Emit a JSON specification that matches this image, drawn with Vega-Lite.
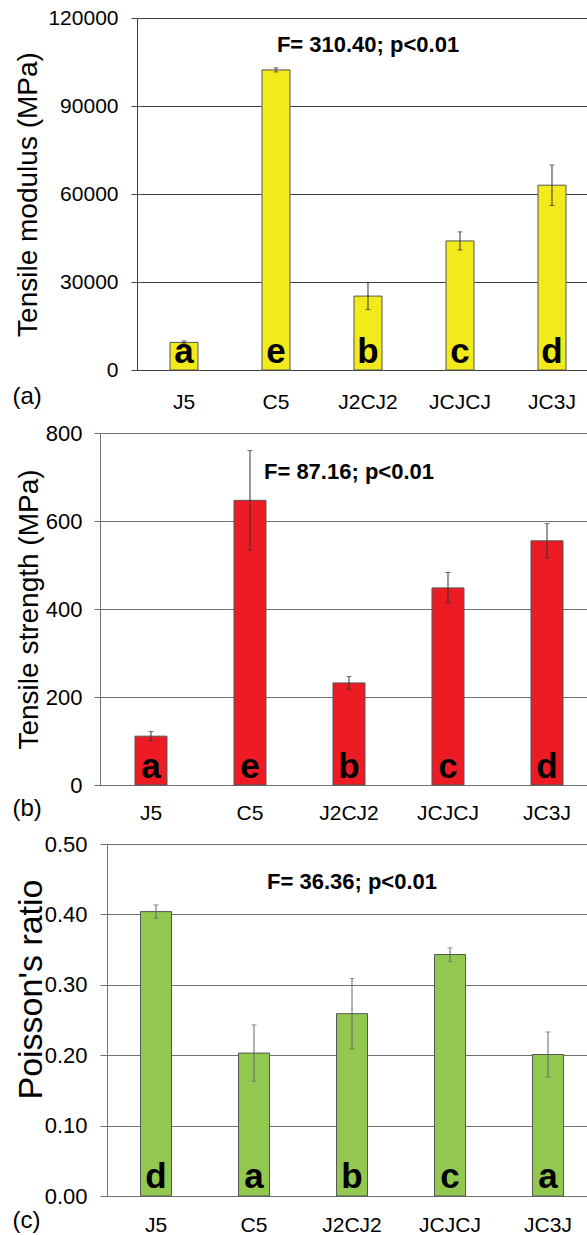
{
  "$schema": "https://vega.github.io/schema/vega-lite/v6.json",
  "background": "white",
  "padding": {"left": 12, "top": 7, "right": 0, "bottom": 0},
  "spacing": 10,
  "config": {
    "view": {"stroke": null},
    "axis": {"labelFont": "Liberation Sans", "titleFont": "Liberation Sans", "labelColor": "#000", "titleColor": "#000", "titleFontWeight": "normal", "labelFontWeight": "normal"},
    "text": {"font": "Liberation Sans", "color": "#000"}
  },
  "vconcat": [
    {"hconcat": [
    {"width": 125, "height": 352, "data": {"values": []}, "mark": {"type": "point", "opacity": 0}},
    {
      "width": 450,
      "height": 352,
      "data": {"values": [
        {"group": "J5", "mean": 9400, "lo": 8900, "hi": 9900, "letter": "a"},
        {"group": "C5", "mean": 102300, "lo": 101600, "hi": 103000, "letter": "e"},
        {"group": "J2CJ2", "mean": 25200, "lo": 20600, "hi": 29800, "letter": "b"},
        {"group": "JCJCJ", "mean": 44000, "lo": 40900, "hi": 47100, "letter": "c"},
        {"group": "JC3J", "mean": 63000, "lo": 56100, "hi": 69900, "letter": "d"}
      ]},
      "encoding": {
        "x": {"field": "group", "type": "nominal",
          "scale": {"domain": ["J5", "C5", "J2CJ2", "JCJCJ", "JC3J"], "paddingInner": 0.6957, "paddingOuter": 0.2935, "align": 0.611},
          "axis": {"title": "(a)", "titleX": -125, "titleY": 33, "titleAlign": "left", "titleBaseline": "alphabetic", "titleFontSize": 24, "labelFontSize": 21, "labelPadding": 21, "labelAngle": 0, "ticks": false, "domainColor": "#404040", "grid": false}}
      },
      "layer": [
        {"mark": {"type": "bar", "fill": "#F2EA1A", "stroke": "#555555", "strokeWidth": 1},
         "encoding": {"y": {"field": "mean", "type": "quantitative", "title": "Tensile modulus (MPa)",
           "scale": {"domain": [0, 120000], "nice": false},
           "axis": {"values": [0, 30000, 60000, 90000, 120000], "format": "d", "labelFontSize": 21, "titleFontSize": 28, "titlePadding": 5, "grid": true, "gridColor": "#404040", "domainColor": "#404040", "tickColor": "#404040", "tickSize": 6, "labelPadding": 13}}}},
        {"mark": {"type": "errorbar", "ticks": {"size": 5}, "color": "#333333"},
         "encoding": {"y": {"field": "lo", "type": "quantitative", "title": "Tensile modulus (MPa)"}, "y2": {"field": "hi"}}},
        {"mark": {"type": "text", "fontWeight": "bold", "fontSize": 35, "baseline": "alphabetic", "align": "center", "dy": -7},
         "encoding": {"y": {"datum": 0, "type": "quantitative", "title": "Tensile modulus (MPa)"}, "text": {"field": "letter"}}},
        {"data": {"values": [{"group": "J2CJ2", "y": 110800, "label": "F= 310.40; p<0.01"}]},
         "mark": {"type": "text", "fontWeight": "bold", "fontSize": 22, "baseline": "middle", "align": "center"},
         "encoding": {"y": {"field": "y", "type": "quantitative", "title": "Tensile modulus (MPa)"}, "text": {"field": "label"}}}
      ]
    }], "spacing": 0, "bounds": "flush"},
    {"hconcat": [
    {"width": 88, "height": 352, "data": {"values": []}, "mark": {"type": "point", "opacity": 0}},
    {
      "width": 487,
      "height": 352,
      "data": {"values": [
        {"group": "J5", "mean": 111, "lo": 100.5, "hi": 121.5, "letter": "a"},
        {"group": "C5", "mean": 647, "lo": 534, "hi": 760, "letter": "e"},
        {"group": "J2CJ2", "mean": 232, "lo": 217.5, "hi": 246.5, "letter": "b"},
        {"group": "JCJCJ", "mean": 448, "lo": 413, "hi": 483, "letter": "c"},
        {"group": "JC3J", "mean": 555, "lo": 516, "hi": 594, "letter": "d"}
      ]},
      "encoding": {
        "x": {"field": "group", "type": "nominal",
          "scale": {"domain": ["J5", "C5", "J2CJ2", "JCJCJ", "JC3J"], "paddingInner": 0.6768, "paddingOuter": 0.298, "align": 0.593},
          "axis": {"title": "(b)", "titleX": -88, "titleY": 30, "titleAlign": "left", "titleBaseline": "alphabetic", "titleFontSize": 24, "labelFontSize": 21, "labelPadding": 17, "labelAngle": 0, "ticks": false, "domainColor": "#707070", "grid": false}}
      },
      "layer": [
        {"mark": {"type": "bar", "fill": "#ED1C24", "stroke": "#555555", "strokeWidth": 1},
         "encoding": {"y": {"field": "mean", "type": "quantitative", "title": "Tensile strength (MPa)",
           "scale": {"domain": [0, 800], "nice": false},
           "axis": {"values": [0, 200, 400, 600, 800], "format": "d", "labelFontSize": 22, "titleFontSize": 28, "titlePadding": 2, "grid": true, "gridColor": "#707070", "domainColor": "#707070", "tickColor": "#707070", "tickSize": 6, "labelPadding": 12}}}},
        {"mark": {"type": "errorbar", "ticks": {"size": 5}, "color": "#333333"},
         "encoding": {"y": {"field": "lo", "type": "quantitative", "title": "Tensile strength (MPa)"}, "y2": {"field": "hi"}}},
        {"mark": {"type": "text", "fontWeight": "bold", "fontSize": 35, "baseline": "alphabetic", "align": "center", "dy": -7},
         "encoding": {"y": {"datum": 0, "type": "quantitative", "title": "Tensile strength (MPa)"}, "text": {"field": "letter"}}},
        {"data": {"values": [{"group": "J2CJ2", "y": 711, "label": "F= 87.16; p<0.01"}]},
         "mark": {"type": "text", "fontWeight": "bold", "fontSize": 22, "baseline": "middle", "align": "center"},
         "encoding": {"y": {"field": "y", "type": "quantitative", "title": "Tensile strength (MPa)"}, "text": {"field": "label"}}}
      ]
    }], "spacing": 0, "bounds": "flush"},
    {"hconcat": [
    {"width": 95, "height": 352, "data": {"values": []}, "mark": {"type": "point", "opacity": 0}},
    {
      "width": 480,
      "height": 352,
      "data": {"values": [
        {"group": "J5", "mean": 0.404, "lo": 0.3945, "hi": 0.4135, "letter": "d"},
        {"group": "C5", "mean": 0.203, "lo": 0.163, "hi": 0.243, "letter": "a"},
        {"group": "J2CJ2", "mean": 0.259, "lo": 0.209, "hi": 0.309, "letter": "b"},
        {"group": "JCJCJ", "mean": 0.343, "lo": 0.333, "hi": 0.3525, "letter": "c"},
        {"group": "JC3J", "mean": 0.201, "lo": 0.169, "hi": 0.233, "letter": "a"}
      ]},
      "encoding": {
        "x": {"field": "group", "type": "nominal",
          "scale": {"domain": ["J5", "C5", "J2CJ2", "JCJCJ", "JC3J"], "paddingInner": 0.6837, "paddingOuter": 0.2908, "align": 0.588},
          "axis": {"title": "(c)", "titleX": -95, "titleY": 31, "titleAlign": "left", "titleBaseline": "alphabetic", "titleFontSize": 24, "labelFontSize": 21, "labelPadding": 18, "labelAngle": 0, "ticks": false, "domainColor": "#707070", "grid": false}}
      },
      "layer": [
        {"mark": {"type": "bar", "fill": "#92C850", "stroke": "#555555", "strokeWidth": 1},
         "encoding": {"y": {"field": "mean", "type": "quantitative", "title": "Poisson's ratio",
           "scale": {"domain": [0, 0.5], "nice": false},
           "axis": {"values": [0, 0.1, 0.2, 0.3, 0.4, 0.5], "format": ".2f", "labelFontSize": 22, "titleFontSize": 34, "titlePadding": -4, "titleY": 145, "grid": true, "gridColor": "#707070", "domainColor": "#707070", "tickColor": "#707070", "tickSize": 7, "labelPadding": 13}}}},
        {"mark": {"type": "errorbar", "ticks": {"size": 5}, "color": "#666666"},
         "encoding": {"y": {"field": "lo", "type": "quantitative", "title": "Poisson's ratio"}, "y2": {"field": "hi"}}},
        {"mark": {"type": "text", "fontWeight": "bold", "fontSize": 35, "baseline": "alphabetic", "align": "center", "dy": -8},
         "encoding": {"y": {"datum": 0, "type": "quantitative", "title": "Poisson's ratio"}, "text": {"field": "letter"}}},
        {"data": {"values": [{"group": "J2CJ2", "y": 0.446, "label": "F= 36.36; p<0.01"}]},
         "mark": {"type": "text", "fontWeight": "bold", "fontSize": 22, "baseline": "middle", "align": "center"},
         "encoding": {"y": {"field": "y", "type": "quantitative", "title": "Poisson's ratio"}, "text": {"field": "label"}}}
      ]
    }], "spacing": 0, "bounds": "flush"}
  ]
}
